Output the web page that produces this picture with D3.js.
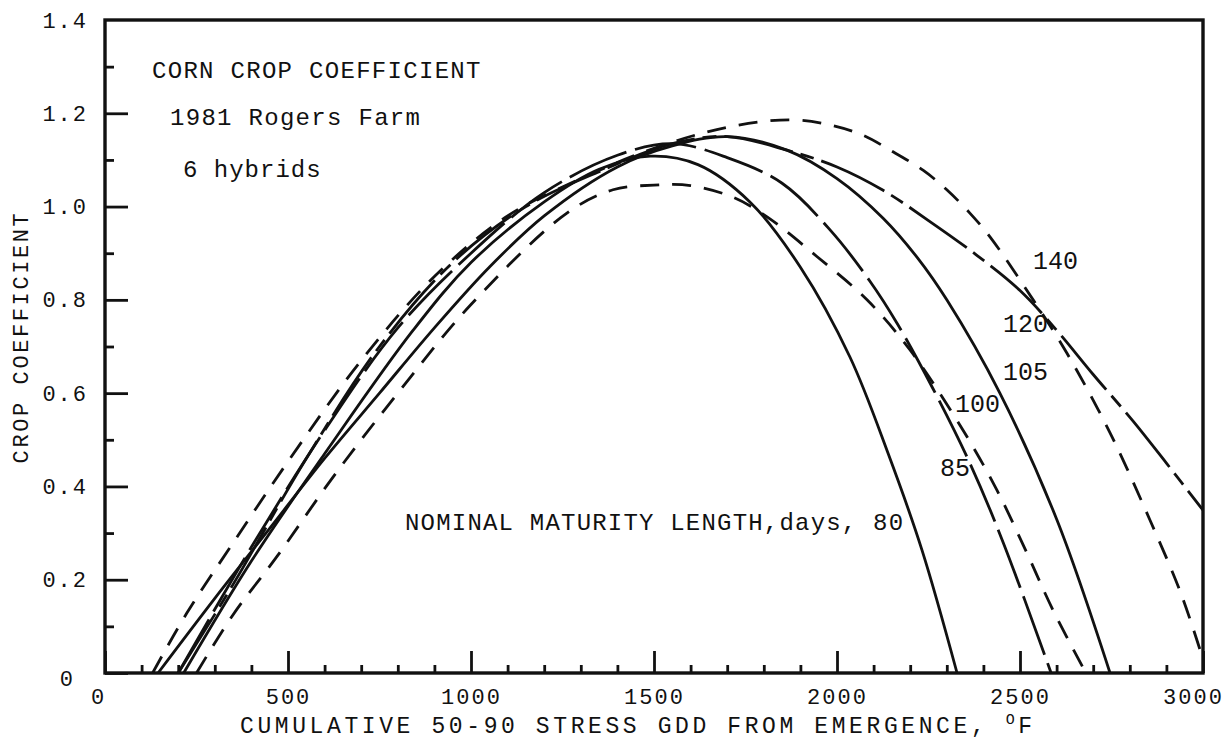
<!DOCTYPE html>
<html>
<head>
<meta charset="utf-8">
<script src="https://cdn.jsdelivr.net/npm/d3@7"></script>
<style>
  body { margin: 0; background: #fff; }
  svg { display: block; }
  text { font-family: "Liberation Mono", "DejaVu Sans Mono", monospace; fill: #111; }
</style>
</head>
<body>
<div id="chart"></div>
<script>
// axis ticks
var xMajor = [0, 500, 1000, 1500, 2000, 2500, 3000];
var xMinor = [100, 200, 300, 400, 600, 700, 800, 900, 1100, 1200, 1300, 1400, 1600, 1700, 1800, 1900,
              2100, 2200, 2300, 2400, 2600, 2700, 2800, 2900];
var yMajor = [0, 0.2, 0.4, 0.6, 0.8, 1.0, 1.2, 1.4];
var yMinor = [0.1, 0.3, 0.5, 0.7, 0.9, 1.1, 1.3];

// hybrids (nominal maturity, days)
var hybrids = ["80", "85", "100", "105", "120", "140"];

// cumulative GDD and crop coefficient
var gdd80 = [215, 400, 600, 842, 1000, 1200, 1350, 1490, 1620, 1762, 1900, 2035, 2140, 2232, 2328];
var kc80  = [0, 0.24, 0.47, 0.735, 0.88, 1.01, 1.08, 1.108, 1.09, 1.01, 0.87, 0.678, 0.47, 0.264, 0];

var gdd85 = [250, 350, 470, 623, 800, 1000, 1262, 1388, 1500, 1600, 1716, 1809, 1945, 2082, 2199, 2344, 2437, 2519, 2590, 2680];
var kc85  = [0, 0.125, 0.25, 0.42, 0.6, 0.79, 0.986, 1.036, 1.046, 1.045, 1.02, 0.978, 0.893, 0.80, 0.693, 0.521, 0.392, 0.257, 0.135, 0];

var gdd100 = [200, 400, 600, 800, 1000, 1200, 1400, 1550, 1700, 1850, 1981, 2090, 2164, 2262, 2363, 2454, 2585];
var kc100  = [0, 0.27, 0.52, 0.74, 0.9, 1.03, 1.11, 1.135, 1.105, 1.05, 0.95, 0.84, 0.75, 0.61, 0.45, 0.28, 0];

var gdd105 = [145, 300, 450, 600, 750, 900, 1050, 1200, 1400, 1550, 1700, 1863, 2000, 2126, 2220, 2300, 2445, 2601, 2746];
var kc105  = [0, 0.16, 0.31, 0.46, 0.6, 0.74, 0.87, 0.98, 1.085, 1.13, 1.15, 1.121, 1.06, 0.975, 0.89, 0.80, 0.60, 0.328, 0];

var gdd120 = [200, 350, 550, 750, 950, 1150, 1350, 1550, 1700, 1863, 2000, 2126, 2250, 2383, 2500, 2600, 2700, 2809, 2900, 3000];
var kc120  = [0, 0.19, 0.46, 0.7, 0.88, 1.0, 1.075, 1.135, 1.15, 1.121, 1.085, 1.035, 0.97, 0.895, 0.82, 0.735, 0.64, 0.54, 0.45, 0.349];

var gdd140 = [130, 224, 350, 497, 700, 900, 1100, 1300, 1500, 1700, 1870, 1981, 2071, 2145, 2235, 2300, 2363, 2418, 2536, 2628, 2746, 2855, 2940, 3000];
var kc140  = [0, 0.129, 0.279, 0.45, 0.67, 0.85, 0.98, 1.06, 1.125, 1.17, 1.186, 1.175, 1.153, 1.121, 1.078, 1.036, 0.986, 0.935, 0.80, 0.686, 0.515, 0.328, 0.17, 0.03];

var width = 1228,
    height = 744;

var x = d3.scaleLinear().domain([0, 3000]).range([105, 1203]);
var y = d3.scaleLinear().domain([0, 1.4]).range([673, 20]);

var svg = d3.select("#chart").append("svg")
    .attr("width", width)
    .attr("height", height);

// line styles per hybrid
var dashes = {
    "80": null,
    "85": "19,13",
    "100": "62,9",
    "105": null,
    "120": "70,8,14,8",
    "140": "19,13"
};

var series = [
    {name: "80", gdd: gdd80, kc: kc80},
    {name: "85", gdd: gdd85, kc: kc85},
    {name: "100", gdd: gdd100, kc: kc100},
    {name: "105", gdd: gdd105, kc: kc105},
    {name: "120", gdd: gdd120, kc: kc120},
    {name: "140", gdd: gdd140, kc: kc140}
];

var line = d3.line()
    .x(function(d) { return x(d[0]); })
    .y(function(d) { return y(d[1]); })
    .curve(d3.curveCatmullRom.alpha(0.5));

svg.append("g").selectAll("path")
    .data(series)
    .enter().append("path")
    .attr("d", function(s) { return line(d3.zip(s.gdd, s.kc)); })
    .attr("fill", "none")
    .attr("stroke", "#111")
    .attr("stroke-width", 2.8)
    .attr("stroke-dasharray", function(s) { return dashes[s.name]; });

// axes, ticks pointing inward
var xAxis = svg.append("g")
    .attr("transform", "translate(0,673)")
    .call(d3.axisBottom(x).tickValues(xMajor).tickSize(-22).tickPadding(15)
        .tickFormat(d3.format("d")));
svg.append("g")
    .attr("transform", "translate(0,673)")
    .call(d3.axisBottom(x).tickValues(xMinor).tickSize(-8).tickFormat(""));

var yAxis = svg.append("g")
    .attr("transform", "translate(105,0)")
    .call(d3.axisLeft(y).tickValues(yMajor).tickSize(-23).tickPadding(17)
        .tickFormat(function(d) { return d === 0 ? "0" : d3.format(".1f")(d); }));
svg.append("g")
    .attr("transform", "translate(105,0)")
    .call(d3.axisLeft(y).tickValues(yMinor).tickSize(-9).tickFormat(""));

svg.selectAll(".domain").remove();
svg.selectAll(".tick line").attr("stroke", "#111").attr("stroke-width", 2.8);
svg.selectAll(".tick text")
    .style("font-family", "'Liberation Mono', monospace")
    .style("font-size", "22px")
    .style("letter-spacing", "2px")
    .attr("fill", "#111");

// nudge the end labels like the original
xAxis.selectAll(".tick text").filter(function(d) { return d === 0; }).attr("dx", -7);
xAxis.selectAll(".tick text").filter(function(d) { return d === 3000; }).attr("dx", -10);
yAxis.selectAll(".tick text").filter(function(d) { return d === 0; }).attr("x", -30).attr("dy", "0.55em");
yAxis.selectAll(".tick line").filter(function(d) { return d === 1.4; }).remove();

// frame
svg.append("rect")
    .attr("x", x(0))
    .attr("y", y(1.4))
    .attr("width", x(3000) - x(0))
    .attr("height", y(0) - y(1.4))
    .attr("fill", "none")
    .attr("stroke", "#111")
    .attr("stroke-width", 3.4);

// annotations
function note(tx, ty, str, size, ls) {
    svg.append("text")
        .attr("x", tx)
        .attr("y", ty)
        .style("font-size", size + "px")
        .style("letter-spacing", ls + "px")
        .text(str);
}

note(152, 78, "CORN CROP COEFFICIENT", 24, 1.3);
note(170, 125, "1981 Rogers Farm", 24, 1.3);
note(183, 177, "6  hybrids", 24, 1.0);
note(405, 530, "NOMINAL MATURITY LENGTH,days, 80", 24, 1.2);

var labelPos = {
    "85":  [940, 476],
    "100": [955, 412],
    "105": [1003, 380],
    "120": [1003, 332],
    "140": [1033, 269]
};
hybrids.forEach(function(h) {
    if (labelPos[h]) note(labelPos[h][0], labelPos[h][1], h, 25, 0);
});

// axis titles
var xt = svg.append("text")
    .attr("x", 240)
    .attr("y", 733)
    .style("font-size", "23px")
    .style("letter-spacing", "3.6px");
xt.append("tspan").text("CUMULATIVE 50-90 STRESS GDD FROM EMERGENCE, ");
xt.append("tspan").attr("dy", -9).style("font-size", "15px").text("O");
xt.append("tspan").attr("dy", 9).text("F");

svg.append("text")
    .attr("transform", "translate(28,337) rotate(-90)")
    .attr("text-anchor", "middle")
    .style("font-size", "22px")
    .style("letter-spacing", "2.6px")
    .text("CROP COEFFICIENT");
</script>
</body>
</html>
